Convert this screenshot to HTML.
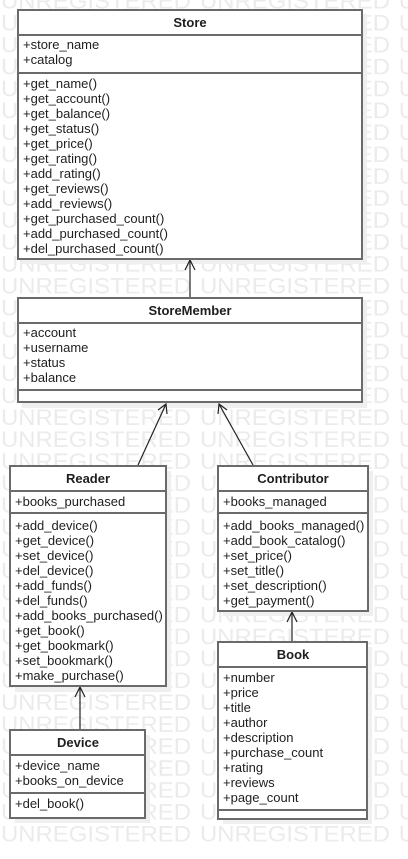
<!DOCTYPE html>
<html><head><meta charset="utf-8"><style>
html,body{margin:0;padding:0;background:#fff;}
svg{display:block;}
.w{font-family:"Liberation Sans",sans-serif;font-size:22px;fill:#ebebeb;}
.t{font-family:"Liberation Sans",sans-serif;font-size:13px;fill:#1e1e1e;}
.b{font-family:"Liberation Sans",sans-serif;font-size:13px;font-weight:bold;fill:#1e1e1e;}
.box{fill:#fff;stroke:#6a6a6a;stroke-width:2;}
.sh{fill:#efefef;}
.ln{stroke:#6a6a6a;stroke-width:2;}
.c{stroke:#222;stroke-width:1.2;fill:none;}
</style></head><body>
<svg width="408" height="859" xmlns="http://www.w3.org/2000/svg">
<defs>
<pattern id="wm" patternUnits="userSpaceOnUse" x="0" y="14" width="408" height="21.92">
<text class="w" x="1" y="16.5" textLength="190" lengthAdjust="spacingAndGlyphs">UNREGISTERED</text>
<text class="w" x="200" y="16.5" textLength="190" lengthAdjust="spacingAndGlyphs">UNREGISTERED</text>
<text class="w" x="399" y="16.5">U</text>
</pattern>
</defs>
<rect x="0" y="0" width="408" height="843" fill="url(#wm)"/>
<!-- shadows -->
<rect class="sh" x="22" y="14" width="345" height="250"/>
<rect class="sh" x="22" y="302" width="345" height="106"/>
<rect class="sh" x="15" y="471" width="156" height="221"/>
<rect class="sh" x="223" y="471" width="150" height="145"/>
<rect class="sh" x="223" y="647" width="149" height="177"/>
<rect class="sh" x="15" y="735" width="135" height="88"/>

<!-- connectors -->
<line class="c" x1="190" y1="297" x2="190" y2="260"/><path class="c" d="M185,270 L190,260 L195,270"/>
<line class="c" x1="138" y1="465" x2="166" y2="404"/><path class="c" d="M158,410 L166,404 L167,414"/>
<line class="c" x1="253" y1="465" x2="219" y2="404"/><path class="c" d="M218,414 L219,404 L227,410"/>
<line class="c" x1="292" y1="642" x2="292" y2="612"/><path class="c" d="M287,622 L292,612 L297,622"/>
<line class="c" x1="80" y1="730" x2="80" y2="687"/><path class="c" d="M75,697 L80,687 L85,697"/>

<!-- Store -->
<rect class="box" x="18" y="10" width="344" height="249"/>
<line class="ln" x1="18" y1="35" x2="362" y2="35"/><line class="ln" x1="18" y1="73" x2="362" y2="73"/>
<text class="b" x="190" y="27" text-anchor="middle">Store</text>
<text class="t" x="23" y="49">+store_name</text><text class="t" x="23" y="64">+catalog</text>
<text class="t" x="23" y="88">+get_name()</text><text class="t" x="23" y="103">+get_account()</text><text class="t" x="23" y="118">+get_balance()</text><text class="t" x="23" y="133">+get_status()</text><text class="t" x="23" y="148">+get_price()</text><text class="t" x="23" y="163">+get_rating()</text><text class="t" x="23" y="178">+add_rating()</text><text class="t" x="23" y="193">+get_reviews()</text><text class="t" x="23" y="208">+add_reviews()</text><text class="t" x="23" y="223">+get_purchased_count()</text><text class="t" x="23" y="238">+add_purchased_count()</text><text class="t" x="23" y="253">+del_purchased_count()</text>

<!-- StoreMember -->
<rect class="box" x="18" y="298" width="344" height="104"/>
<line class="ln" x1="18" y1="323" x2="362" y2="323"/><line class="ln" x1="18" y1="390" x2="362" y2="390"/>
<text class="b" x="190" y="315" text-anchor="middle">StoreMember</text>
<text class="t" x="23" y="337">+account</text><text class="t" x="23" y="352">+username</text><text class="t" x="23" y="367">+status</text><text class="t" x="23" y="382">+balance</text>

<!-- Reader -->
<rect class="box" x="10" y="466" width="156" height="220"/>
<line class="ln" x1="10" y1="491" x2="166" y2="491"/><line class="ln" x1="10" y1="513" x2="166" y2="513"/>
<text class="b" x="88" y="483" text-anchor="middle">Reader</text>
<text class="t" x="15" y="506">+books_purchased</text>
<text class="t" x="15" y="530">+add_device()</text><text class="t" x="15" y="545">+get_device()</text><text class="t" x="15" y="560">+set_device()</text><text class="t" x="15" y="575">+del_device()</text><text class="t" x="15" y="590">+add_funds()</text><text class="t" x="15" y="605">+del_funds()</text><text class="t" x="15" y="620">+add_books_purchased()</text><text class="t" x="15" y="635">+get_book()</text><text class="t" x="15" y="650">+get_bookmark()</text><text class="t" x="15" y="665">+set_bookmark()</text><text class="t" x="15" y="680">+make_purchase()</text>

<!-- Contributor -->
<rect class="box" x="218" y="466" width="150" height="145"/>
<line class="ln" x1="218" y1="491" x2="368" y2="491"/><line class="ln" x1="218" y1="513" x2="368" y2="513"/>
<text class="b" x="293" y="483" text-anchor="middle">Contributor</text>
<text class="t" x="223" y="506">+books_managed</text>
<text class="t" x="223" y="530">+add_books_managed()</text><text class="t" x="223" y="545">+add_book_catalog()</text><text class="t" x="223" y="560">+set_price()</text><text class="t" x="223" y="575">+set_title()</text><text class="t" x="223" y="590">+set_description()</text><text class="t" x="223" y="605">+get_payment()</text>

<!-- Book -->
<rect class="box" x="218" y="642" width="149" height="177"/>
<line class="ln" x1="218" y1="667" x2="367" y2="667"/><line class="ln" x1="218" y1="810" x2="367" y2="810"/>
<text class="b" x="293" y="659" text-anchor="middle">Book</text>
<text class="t" x="223" y="682">+number</text><text class="t" x="223" y="697">+price</text><text class="t" x="223" y="712">+title</text><text class="t" x="223" y="727">+author</text><text class="t" x="223" y="742">+description</text><text class="t" x="223" y="757">+purchase_count</text><text class="t" x="223" y="772">+rating</text><text class="t" x="223" y="787">+reviews</text><text class="t" x="223" y="802">+page_count</text>

<!-- Device -->
<rect class="box" x="10" y="730" width="135" height="88"/>
<line class="ln" x1="10" y1="755" x2="145" y2="755"/><line class="ln" x1="10" y1="793" x2="145" y2="793"/>
<text class="b" x="78" y="747" text-anchor="middle">Device</text>
<text class="t" x="15" y="770">+device_name</text><text class="t" x="15" y="785">+books_on_device</text>
<text class="t" x="15" y="808">+del_book()</text>
</svg>
</body></html>
